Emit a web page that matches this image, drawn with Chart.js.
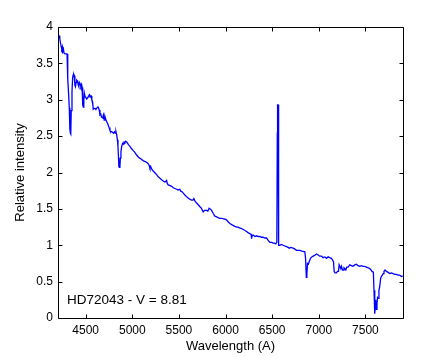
<!DOCTYPE html>
<html>
<head>
<meta charset="utf-8">
<script src="https://cdn.jsdelivr.net/npm/chart.js@4/dist/chart.umd.min.js"></script>
<style>
html,body{margin:0;padding:0;background:#fff;}
#wrap{position:relative;width:445px;height:357px;}
</style>
</head>
<body>
<div id="wrap"><canvas id="c" width="445" height="357"></canvas></div>
<script>
const wavelength = [4205,4214,4222,4230,4236,4243,4250,4256,4262,4268,4280,4290,4300,4305,4310,4318,4324,4330,4336,4340,4345,4353,4360,4366,4372,4378,4384,4390,4397,4404,4412,4420,4426,4432,4440,4448,4456,4462,4468,4474,4480,4486,4494,4502,4510,4518,4526,4534,4542,4550,4558,4566,4574,4581,4590,4600,4610,4618,4626,4635,4645,4653,4662,4670,4682,4690,4698,4707,4716,4725,4733,4742,4750,4760,4770,4780,4790,4800,4810,4818,4825,4832,4840,4846,4852,4856,4862,4867,4872,4878,4886,4896,4905,4912,4921,4930,4940,4950,4960,4975,4990,5010,5025,5046,5060,5075,5090,5100,5120,5140,5154,5170,5180,5189,5198,5207,5224,5240,5261,5278,5296,5314,5335,5350,5368,5375,5385,5405,5421,5440,5457,5475,5492,5510,5520,5529,5545,5564,5580,5599,5620,5636,5650,5660,5671,5689,5705,5725,5740,5760,5775,5796,5810,5824,5835,5850,5867,5885,5904,5920,5939,5960,5992,6010,6030,6046,6070,6100,6120,6135,6150,6171,6200,6225,6245,6260,6275,6279,6285,6296,6315,6332,6350,6368,6385,6403,6420,6439,6455,6475,6495,6510,6525,6539,6550,6555,6558,6563,6566,6572,6582,6600,6617,6635,6654,6670,6682,6700,6724,6740,6761,6780,6796,6820,6850,6858,6866,6872,6879,6888,6896,6911,6925,6939,6955,6975,6990,7010,7030,7046,7065,7082,7100,7117,7135,7146,7158,7165,7175,7189,7200,7211,7218,7225,7235,7243,7252,7260,7270,7278,7290,7300,7314,7332,7350,7367,7385,7404,7420,7439,7455,7474,7490,7511,7530,7546,7560,7571,7585,7592,7600,7605,7610,7617,7624,7630,7635,7645,7653,7664,7675,7682,7690,7699,7710,7725,7740,7760,7780,7796,7815,7832,7850,7867,7885,7900];
const intensity = [3.90,3.88,3.84,3.78,3.74,3.70,3.73,3.67,3.69,3.64,3.63,3.63,3.63,3.55,3.29,3.05,2.89,2.60,2.54,2.53,2.85,3.11,3.30,3.34,3.35,3.33,3.20,3.18,3.24,3.27,3.26,3.20,3.18,3.24,3.22,3.18,3.21,3.17,2.93,2.90,3.00,3.09,3.04,3.03,3.01,3.02,3.04,3.06,3.07,3.04,3.05,3.00,2.97,2.87,2.88,2.88,2.87,2.88,2.90,2.90,2.86,2.79,2.80,2.76,2.75,2.79,2.72,2.77,2.73,2.70,2.68,2.65,2.62,2.58,2.56,2.56,2.55,2.54,2.56,2.54,2.56,2.52,2.45,2.36,2.20,2.08,2.07,2.08,2.20,2.28,2.36,2.40,2.39,2.42,2.41,2.43,2.42,2.40,2.38,2.36,2.33,2.30,2.28,2.24,2.22,2.20,2.19,2.18,2.16,2.15,2.14,2.12,2.10,2.06,2.08,2.05,2.02,2.00,1.97,1.94,1.92,1.90,1.88,1.87,1.89,1.85,1.83,1.82,1.81,1.79,1.78,1.77,1.76,1.77,1.74,1.74,1.72,1.69,1.67,1.65,1.63,1.62,1.62,1.64,1.61,1.58,1.56,1.53,1.51,1.46,1.48,1.48,1.47,1.51,1.50,1.48,1.44,1.40,1.39,1.38,1.37,1.37,1.36,1.35,1.32,1.30,1.28,1.26,1.25,1.25,1.24,1.23,1.21,1.19,1.17,1.16,1.15,1.09,1.13,1.14,1.12,1.13,1.12,1.12,1.11,1.11,1.10,1.10,1.07,1.04,1.04,1.03,1.03,1.02,1.04,2.54,2.93,2.93,1.02,1.00,1.00,1.01,1.00,0.99,0.98,0.97,0.96,0.97,0.96,0.95,0.93,0.93,0.93,0.92,0.91,0.82,0.56,0.60,0.75,0.74,0.77,0.82,0.84,0.85,0.86,0.88,0.87,0.85,0.85,0.83,0.84,0.82,0.84,0.83,0.82,0.80,0.77,0.64,0.62,0.62,0.64,0.64,0.73,0.73,0.68,0.71,0.66,0.66,0.69,0.68,0.66,0.70,0.70,0.73,0.72,0.71,0.73,0.74,0.72,0.71,0.72,0.71,0.71,0.70,0.69,0.68,0.66,0.64,0.63,0.38,0.06,0.15,0.25,0.12,0.20,0.28,0.27,0.38,0.43,0.55,0.58,0.59,0.61,0.64,0.66,0.64,0.63,0.61,0.62,0.61,0.60,0.60,0.59,0.59,0.57,0.58];
const xTicks = [4500,5000,5500,6000,6500,7000,7500];
const yTicks = [0,0.5,1,1.5,2,2.5,3,3.5,4];
const xLabel = 'Wavelength (A)';
const yLabel = 'Relative intensity';
const annotation = 'HD72043 - V = 8.81';

const FONT = "'Liberation Sans', Arial, Helvetica, sans-serif";

const boxTicks = {
  id: 'boxTicks',
  afterDraw(chart) {
    const ctx = chart.ctx, a = chart.chartArea;
    const xs = chart.scales.x, ys = chart.scales.y;
    const L = Math.round(a.left) + 0.5, R = Math.round(a.right) + 0.5;
    const T = Math.round(a.top) + 0.5, B = Math.round(a.bottom) + 0.5;
    ctx.save();
    ctx.strokeStyle = '#000';
    ctx.lineWidth = 1;
    ctx.beginPath();
    ctx.rect(L, T, R - L, B - T);
    const tl = 4;
    xs.ticks.forEach(t => {
      const px = Math.round(xs.getPixelForValue(t.value)) + 0.5;
      ctx.moveTo(px, B); ctx.lineTo(px, B - tl);
      ctx.moveTo(px, T); ctx.lineTo(px, T + tl);
    });
    ys.ticks.forEach(t => {
      const py = Math.round(ys.getPixelForValue(t.value)) + 0.5;
      ctx.moveTo(L, py); ctx.lineTo(L + tl, py);
      ctx.moveTo(R, py); ctx.lineTo(R - tl, py);
    });
    ctx.stroke();
    ctx.fillStyle = '#000';
    ctx.font = '13.5px ' + FONT;
    ctx.textBaseline = 'middle';
    ctx.textAlign = 'left';
    ctx.fillText(annotation, xs.getPixelForValue(4300), ys.getPixelForValue(0.24));
    ctx.restore();
  }
};

new Chart(document.getElementById('c'), {
  type: 'line',
  data: {
    datasets: [{
      data: wavelength.map((w, i) => ({x: w, y: intensity[i]})),
      borderColor: '#0000ff',
      borderWidth: 1.3,
      pointRadius: 0,
      tension: 0,
      fill: false
    }]
  },
  options: {
    responsive: false,
    animation: false,
    events: [],
    layout: {padding: {top: 27, right: 42, left: 0, bottom: 0}},
    plugins: {legend: {display: false}, tooltip: {enabled: false}},
    scales: {
      x: {
        type: 'linear',
        min: 4203, max: 7903,
        afterBuildTicks: s => { s.ticks = xTicks.map(v => ({value: v})); },
        afterFit: s => { s.height = 39; },
        grid: {display: false, drawTicks: false},
        border: {display: false},
        ticks: {color: '#000', font: {family: FONT, size: 12}, padding: 5, maxRotation: 0,
                callback: v => String(v)},
        title: {display: true, text: xLabel, color: '#000', font: {family: FONT, size: 13}, padding: {top: 0, bottom: 3}}
      },
      y: {
        type: 'linear',
        min: 0, max: 4,
        afterBuildTicks: s => { s.ticks = yTicks.map(v => ({value: v})); },
        afterFit: s => { s.width = 58; },
        grid: {display: false, drawTicks: false},
        border: {display: false},
        ticks: {color: '#000', font: {family: FONT, size: 12}, padding: 5,
                callback: v => String(v)},
        title: {display: true, text: yLabel, color: '#000', font: {family: FONT, size: 13}, padding: {top: 13, bottom: 0}}
      }
    }
  },
  plugins: [boxTicks]
});
</script>
</body>
</html>
